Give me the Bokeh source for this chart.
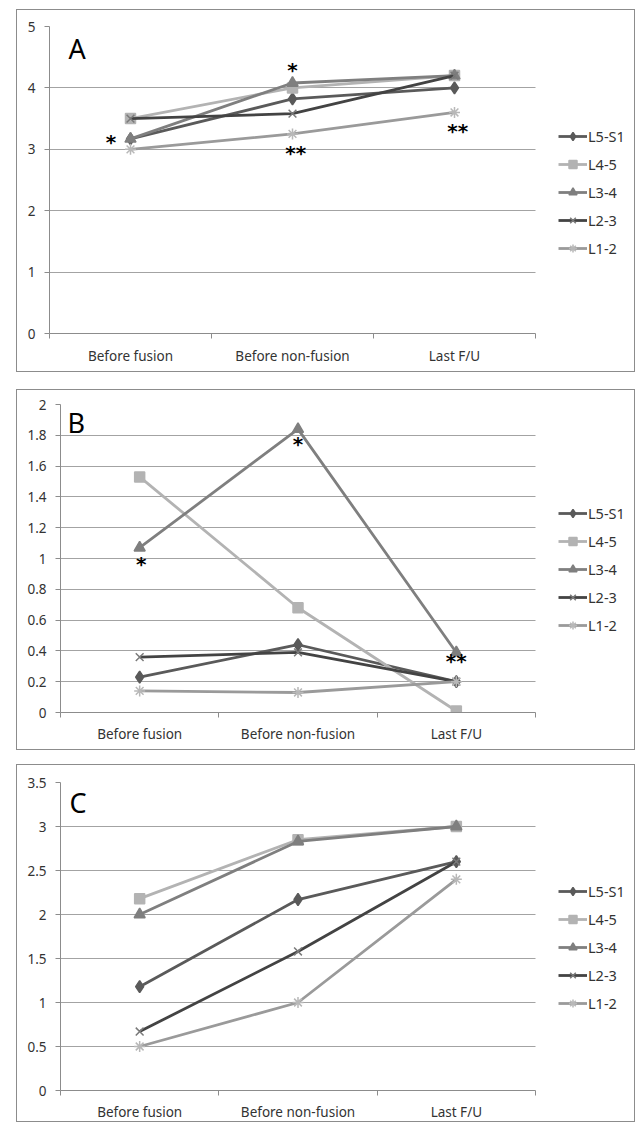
from bokeh.plotting import figure
from bokeh.models import FixedTicker, LinearAxis, Legend, LegendItem, Label, Range1d, ColumnDataSource
from bokeh.core.properties import value
from bokeh.embed import file_html
from bokeh.resources import INLINE
import numpy as np

# ---------------- data ----------------
categories = ["Before fusion", "Before non-fusion", "Last F/U"]
levels = ["L5-S1", "L4-5", "L3-4", "L2-3", "L1-2"]

# Panel A
a_L5S1 = [3.17, 3.82, 4.00]
a_L45 = [3.50, 4.00, 4.20]
a_L34 = [3.17, 4.08, 4.20]
a_L23 = [3.50, 3.58, 4.20]
a_L12 = [3.00, 3.25, 3.60]

# Panel B
b_L5S1 = [0.23, 0.44, 0.20]
b_L45 = [1.53, 0.68, 0.01]
b_L34 = [1.07, 1.84, 0.39]
b_L23 = [0.36, 0.39, 0.20]
b_L12 = [0.14, 0.13, 0.20]

# Panel C
c_L5S1 = [1.18, 2.17, 2.60]
c_L45 = [2.18, 2.85, 3.00]
c_L34 = [2.00, 2.83, 3.00]
c_L23 = [0.67, 1.58, 2.60]
c_L12 = [0.50, 1.00, 2.40]

# y ticks
yticks_a = [0, 1, 2, 3, 4, 5]
ylabels_a = ["0", "1", "2", "3", "4", "5"]
yticks_b = [0, 0.2, 0.4, 0.6, 0.8, 1.0, 1.2, 1.4, 1.6, 1.8, 2.0]
ylabels_b = ["0", "0.2", "0.4", "0.6", "0.8", "1", "1.2", "1.4", "1.6", "1.8", "2"]
yticks_c = [0, 0.5, 1.0, 1.5, 2.0, 2.5, 3.0, 3.5]
ylabels_c = ["0", "0.5", "1", "1.5", "2", "2.5", "3", "3.5"]

# significance marks (x in category units, y in data units)
ann_a_x = [0.38, 1.50, 1.52, 2.52]
ann_a_y = [3.13, 4.30, 2.96, 3.32]
ann_a_t = ["*", "*", "**", "**"]
ann_b_x = [0.51, 1.50, 2.50]
ann_b_y = [0.97, 1.75, 0.34]
ann_b_t = ["*", "*", "**"]
ann_c_x = []
ann_c_y = []
ann_c_t = []

# ---------------- styles ----------------
colors = ["#5a5a5a", "#b3b3b3", "#7f7f7f", "#434343", "#9a9a9a"]
markers = ["diamond", "square", "triangle", "x", "asterisk"]
msizes = [12, 10, 11, 11, 11]
mline = ["#5a5a5a", "#b3b3b3", "#7f7f7f", "#7a7a7a", "#b8b8b8"]
FONT = "Noto Sans"
TXT = "#333333"
GRID = "#a3a3a3"
AXC = "#8c8c8c"
FS = "13.5px"
LEG_FS = "14.5px"

ncat = len(categories)
xpos = np.arange(ncat) + 0.5
FIG_W = 619
PLOT_RIGHT = 518   # px from figure left where the category area ends


def make_panel(series, ymax, yticks, ylabels, ann_x, ann_y, ann_t, letter, letter_xy,
               height, mb_left, mb_top, mb_bottom, leg_loc, cat_standoff, margin):
    # frame spans to the figure's right edge so that the legend (drawn inside the
    # frame) is not clipped; the category area ends at PLOT_RIGHT
    x_end = ncat * (FIG_W - mb_left) / (PLOT_RIGHT - mb_left)
    p = figure(width=FIG_W, height=height, output_backend="svg", toolbar_location=None,
               x_range=Range1d(0, x_end), y_range=Range1d(0, ymax),
               min_border_left=mb_left, min_border_right=0,
               min_border_top=mb_top, min_border_bottom=mb_bottom)
    p.styles = {"border": "1px solid #8c8c8c"}
    p.margin = margin
    p.outline_line_color = None
    p.background_fill_color = "white"
    p.border_fill_color = "white"

    # y axis
    yt = FixedTicker(ticks=yticks)
    p.yaxis.ticker = yt
    p.yaxis.major_label_overrides = {t: l for t, l in zip(yticks, ylabels)}
    p.yaxis.axis_line_color = AXC
    p.yaxis.major_tick_line_color = AXC
    p.yaxis.major_tick_out = 5
    p.yaxis.major_tick_in = 0
    p.yaxis.minor_tick_line_color = None
    p.yaxis.major_label_standoff = 9
    p.yaxis.major_label_text_font = FONT
    p.yaxis.major_label_text_font_size = FS
    p.yaxis.major_label_text_color = TXT
    p.ygrid.ticker = yt
    p.ygrid.grid_line_color = GRID
    p.ygrid.cross_bounds = (0, ncat)
    p.xgrid.visible = False

    # x axis: boundary ticks
    p.xaxis.ticker = FixedTicker(ticks=list(range(ncat + 1)))
    p.xaxis.bounds = (0, ncat)
    p.xaxis.major_label_overrides = {i: "" for i in range(ncat + 1)}
    p.xaxis.major_label_text_font_size = "1px"
    p.xaxis.major_label_standoff = 0
    p.xaxis.axis_line_color = AXC
    p.xaxis.major_tick_line_color = AXC
    p.xaxis.major_tick_out = 5
    p.xaxis.major_tick_in = 0
    p.xaxis.minor_tick_line_color = None

    # x axis: category labels
    ax2 = LinearAxis(ticker=FixedTicker(ticks=list(xpos)),
                     major_label_overrides={float(x): c for x, c in zip(xpos, categories)},
                     axis_line_color=None, major_tick_line_color=None,
                     minor_tick_line_color=None, major_tick_out=0, major_tick_in=0,
                     major_label_standoff=cat_standoff,
                     major_label_text_font=FONT, major_label_text_font_size=FS,
                     major_label_text_color=TXT)
    p.add_layout(ax2, "below")

    items = []
    for name, vals, col, mk, ms, ml in zip(levels, series, colors, markers, msizes, mline):
        src = ColumnDataSource(dict(x=xpos, y=vals))
        r1 = p.line("x", "y", source=src, line_color=col, line_width=2.8)
        r2 = p.scatter("x", "y", source=src, marker=mk, size=ms, fill_color=col,
                       line_color=ml, line_width=1.5)
        items.append(LegendItem(label=name, renderers=[r1, r2]))

    if ann_t:
        asrc = ColumnDataSource(dict(x=ann_x, y=ann_y, t=ann_t))
        p.text("x", "y", text="t", source=asrc, text_font=value("DejaVu Sans"),
               text_font_style="bold", text_font_size=value("20px"), text_color="black",
               text_align="center", text_baseline="middle", y_offset=1)

    p.add_layout(Label(x=letter_xy[0], y=letter_xy[1], text=letter, text_font=FONT,
                       text_font_size="27px", text_color="black", text_align="center",
                       text_baseline="middle"))

    leg = Legend(items=items, location=leg_loc, border_line_color=None,
                 background_fill_alpha=0, padding=0, margin=0, spacing=8,
                 glyph_width=29, glyph_height=20, label_height=20, label_standoff=1,
                 label_text_font=FONT, label_text_font_size=LEG_FS, label_text_color=TXT)
    p.add_layout(leg)
    return p


pA = make_panel([a_L5S1, a_L45, a_L34, a_L23, a_L12], 5, yticks_a, ylabels_a,
                ann_a_x, ann_a_y, ann_a_t, "A", (0.17, 4.64),
                height=363, mb_left=32, mb_top=16, mb_bottom=40, leg_loc=(509, 75),
                cat_standoff=8, margin=(9, 0, 0, 16))
pB = make_panel([b_L5S1, b_L45, b_L34, b_L23, b_L12], 2, yticks_b, ylabels_b,
                ann_b_x, ann_b_y, ann_b_t, "B", (0.10, 1.88),
                height=361, mb_left=43, mb_top=14, mb_bottom=39, leg_loc=(498, 77),
                cat_standoff=7, margin=(17, 0, 0, 16))
pC = make_panel([c_L5S1, c_L45, c_L34, c_L23, c_L12], 3.5, yticks_c, ylabels_c,
                ann_c_x, ann_c_y, ann_c_t, "C", (0.11, 3.27),
                height=358, mb_left=43, mb_top=17, mb_bottom=32, leg_loc=(498, 77),
                cat_standoff=7, margin=(14, 0, 0, 16))

# separate roots so that the three plot frames are not aligned with each other
open("out.html", "w").write(file_html([pA, pB, pC], INLINE))
